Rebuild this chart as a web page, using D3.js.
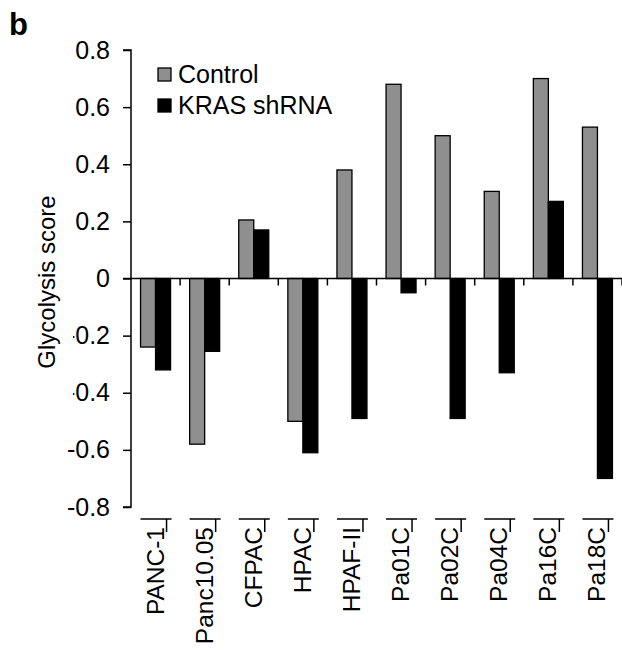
<!DOCTYPE html>
<html>
<head>
<meta charset="utf-8">
<script src="https://cdn.jsdelivr.net/npm/d3@7"></script>
<style>
  body { margin: 0; background: #fff; }
  svg { display: block; font-family: "Liberation Sans", Arial, sans-serif; }
</style>
</head>
<body>
<div id="graph"></div>
<script>
"use strict";
(function() {
    const cellLines = ["PANC-1", "Panc10.05", "CFPAC", "HPAC", "HPAF-II",
                       "Pa01C", "Pa02C", "Pa04C", "Pa16C", "Pa18C"];
    const seriesNames = ["Control", "KRAS shRNA"];
    const controlScores = [-0.24, -0.58, 0.205, -0.50, 0.38, 0.68, 0.50, 0.305, 0.70, 0.53];
    const shrnaScores = [-0.32, -0.255, 0.17, -0.61, -0.49, -0.05, -0.49, -0.33, 0.27, -0.70];
    const yTicks = [-0.8, -0.6, -0.4, -0.2, 0, 0.2, 0.4, 0.6, 0.8];

    const svgSize = { width: 622, height: 650 };
    const plot = { left: 131, right: 622, top: 50, bottom: 507 };
    const fills = ["#8f8f8f", "#000000"];
    const fontSize = 25;

    window.addEventListener("load", init);

    function init() {
        const svg = d3.select("#graph")
            .append("svg")
                .attr("width", svgSize.width)
                .attr("height", svgSize.height);

        const xScale = d3.scaleBand()
            .domain(cellLines)
            .range([plot.left, plot.right]);
        const groupWidth = 30;
        const xInner = d3.scaleBand()
            .domain(seriesNames)
            .range([0, groupWidth]);
        const yScale = d3.scaleLinear()
            .domain([-0.8, 0.8])
            .range([plot.bottom, plot.top]);

        const rows = cellLines.map((name, i) => ({
            name: name,
            values: [controlScores[i], shrnaScores[i]]
        }));

        // bars
        const groups = svg.selectAll(".group")
            .data(rows)
            .enter()
            .append("g")
                .attr("class", "group")
                .attr("transform", d => "translate(" +
                    (xScale(d.name) + (xScale.bandwidth() - groupWidth) / 2) + ",0)");

        groups.selectAll("rect")
            .data(d => d.values.map((v, j) => ({ series: seriesNames[j], value: v, j: j })))
            .enter()
            .append("rect")
                .attr("x", d => xInner(d.series))
                .attr("width", xInner.bandwidth())
                .attr("y", d => yScale(Math.max(0, d.value)))
                .attr("height", d => Math.abs(yScale(d.value) - yScale(0)))
                .attr("fill", d => fills[d.j])
                .attr("stroke", "#000")
                .attr("stroke-width", 1.3);

        // y axis
        const yAxis = svg.append("g")
            .attr("transform", "translate(" + plot.left + ",0)")
            .call(d3.axisLeft(yScale)
                .tickValues(yTicks)
                .tickSize(8)
                .tickPadding(13)
                .tickFormat(d => d === 0 ? "0" : d3.format(".1f")(d).replace("\u2212", "-")));
        yAxis.select(".domain")
            .attr("stroke", "#000")
            .attr("stroke-width", 1.5)
            .attr("d", "M-8," + plot.top + "H0V" + plot.bottom + "H-8");
        yAxis.selectAll(".tick line").attr("stroke-width", 1.5);
        yAxis.selectAll(".tick text")
            .attr("font-size", fontSize)
            .attr("font-family", "Liberation Sans, Arial, sans-serif")
            .attr("fill", "#000");

        // category axis at zero
        const zeroAxis = svg.append("g")
            .attr("transform", "translate(0," + yScale(0) + ")");
        zeroAxis.append("line")
            .attr("x1", plot.left - 8)
            .attr("x2", plot.right)
            .attr("stroke", "#000")
            .attr("stroke-width", 1.5);
        zeroAxis.selectAll(".ctick")
            .data(cellLines)
            .enter()
            .append("line")
                .attr("class", "ctick")
                .attr("x1", d => xScale(d) + xScale.bandwidth())
                .attr("x2", d => xScale(d) + xScale.bandwidth())
                .attr("y1", 0)
                .attr("y2", 7)
                .attr("stroke", "#000")
                .attr("stroke-width", 1.5);

        // marks above the category labels
        const labelTop = 519;
        const marks = svg.selectAll(".lmark")
            .data(cellLines)
            .enter()
            .append("g")
                .attr("class", "lmark")
                .attr("transform", d => "translate(" + (xScale(d) + xScale.bandwidth() / 2) + "," + labelTop + ")");
        marks.append("line")
            .attr("x1", -15).attr("x2", 16)
            .attr("stroke", "#000").attr("stroke-width", 1.5);
        marks.append("line")
            .attr("x1", 11).attr("x2", 11)
            .attr("y1", 0).attr("y2", 13)
            .attr("stroke", "#000").attr("stroke-width", 1.5);

        // category labels
        svg.selectAll(".clabel")
            .data(cellLines)
            .enter()
            .append("text")
                .attr("class", "clabel")
                .attr("transform", d => "translate(" + (xScale(d) + xScale.bandwidth() / 2 + 8) + "," + (labelTop + 8) + ") rotate(-90)")
                .attr("text-anchor", "end")
                .attr("font-size", 24.5)
                .text(d => d);

        // y axis title, its box covers part of the tick labels
        svg.append("rect")
            .attr("x", 28)
            .attr("y", 188)
            .attr("width", 45)
            .attr("height", 208)
            .attr("fill", "#fff");
        svg.append("text")
            .attr("transform", "translate(55," + 282 + ") rotate(-90)")
            .attr("text-anchor", "middle")
            .attr("font-size", 24)
            .text("Glycolysis score");

        // legend
        const legend = svg.selectAll(".legend")
            .data(seriesNames)
            .enter()
            .append("g")
                .attr("class", "legend")
                .attr("transform", (d, i) => "translate(158," + (68 + i * 31) + ")");
        legend.append("rect")
            .attr("width", 13)
            .attr("height", 13)
            .attr("fill", (d, i) => fills[i])
            .attr("stroke", "#000")
            .attr("stroke-width", 1.3);
        legend.append("text")
            .attr("x", 20)
            .attr("y", 15)
            .attr("font-size", fontSize)
            .text(d => d);

        // panel letter
        svg.append("text")
            .attr("x", 9)
            .attr("y", 35)
            .attr("font-size", 31)
            .attr("font-weight", "bold")
            .text("b");
    }
})();
</script>
</body>
</html>
